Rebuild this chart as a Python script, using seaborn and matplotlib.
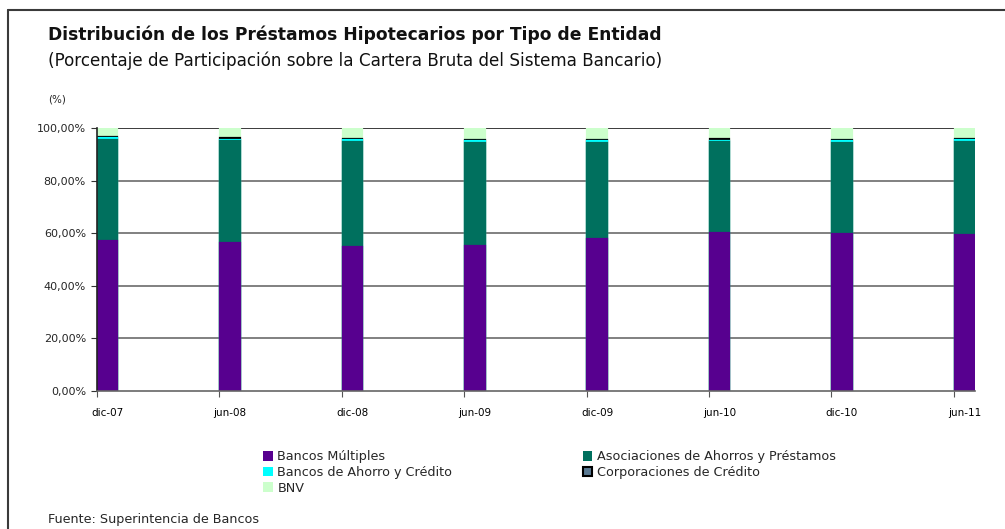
import matplotlib
matplotlib.use("Agg")
import matplotlib.pyplot as plt
import matplotlib.patches as mpatches
from matplotlib.lines import Line2D
from matplotlib.ticker import FixedLocator, FuncFormatter
import numpy as np
import pandas as pd
import seaborn as sns

# Data (percent of mortgage portfolio)
periods = ["dic-07", "jun-08", "dic-08", "jun-09", "dic-09", "jun-10", "dic-10", "jun-11"]
bancos_multiples = [57.0, 56.3, 54.8, 55.1, 57.8, 60.1, 59.7, 59.3]
asociaciones = [38.6, 38.6, 40.0, 39.2, 36.4, 34.7, 34.5, 35.5]
bancos_ahorro = [0.5, 0.7, 0.5, 0.9, 0.8, 0.4, 1.0, 0.7]
corporaciones = [0.3, 0.5, 0.5, 0.4, 0.4, 0.6, 0.4, 0.5]
bnv = [3.6, 3.9, 4.2, 4.4, 4.6, 4.2, 4.4, 4.0]

series_names = ["Bancos Múltiples", "Asociaciones de Ahorros y Préstamos",
                "Bancos de Ahorro y Crédito", "Corporaciones de Crédito", "BNV"]
colors = ["#57008f", "#00705e", "#00ffff", "#5a7a93", "#ccffcc"]
edges = [None, None, None, "black", None]

sns.set_theme(style="white")
plt.rcParams['font.family'] = ['DejaVu Sans']

df = pd.DataFrame({"periodo": periods})
cum = np.zeros(len(periods))
cum_cols = []
for name, vals in zip(series_names,
                      [bancos_multiples, asociaciones, bancos_ahorro, corporaciones, bnv]):
    cum = cum + np.array(vals)
    df[name] = cum
    cum_cols.append(name)

fig = plt.figure(figsize=(10.05, 5.29), dpi=100)
ax = fig.add_axes([97 / 1005, 1 - 391 / 529, (975 - 97) / 1005, (391 - 128) / 529])

bar_w = 0.16
# draw cumulative totals from the top segment down so they stack visually;
# same-colour edges on the lower bars hide the side edges of the Corporaciones bar
for name, col, ec in reversed(list(zip(cum_cols, colors, edges))):
    sns.barplot(data=df, x="periodo", y=name, order=periods, color=col,
                width=bar_w, saturation=1, ax=ax,
                edgecolor=ec if ec else col, linewidth=1.6)

half = bar_w / 2 + 0.007
ax.set_xlim(-half, len(periods) - 1 + half)
ax.set_ylim(0, 100)
ax.set_xlabel("")
ax.set_ylabel("")

ax.set_yticks([0, 20, 40, 60, 80, 100])
ax.yaxis.set_major_formatter(FuncFormatter(lambda v, p: f"{v:.2f}".replace(".", ",") + "%"))
for yv in [20, 40, 60, 80]:
    ax.axhline(yv, color="#6b6b6b", lw=1.2, zorder=0)
ax.axhline(100, color="#1a1a1a", lw=1.2, zorder=0)

ax.xaxis.set_minor_locator(FixedLocator([i - half for i in range(len(periods))]))
ax.tick_params(axis="x", which="major", length=0, labelsize=7.5, pad=12, colors="black")
ax.tick_params(axis="x", which="minor", length=4, width=0.8, color="#555555", direction="out", bottom=True)
ax.tick_params(axis="y", which="major", length=4, width=0.8, color="#333333", direction="out",
               left=True, labelsize=8, pad=4)

for s in ["top", "right"]:
    ax.spines[s].set_visible(False)
ax.spines["left"].set_color("#222222")
ax.spines["left"].set_linewidth(1.2)
ax.spines["bottom"].set_color("#666666")
ax.spines["bottom"].set_linewidth(1.2)

# titles and labels
fig.text(48 / 1005, 1 - 35 / 529, "Distribución de los Préstamos Hipotecarios por Tipo de Entidad",
         fontsize=12.3, fontweight="bold", color="#111111", va="center", ha="left")
fig.text(48 / 1005, 1 - 61 / 529,
         "(Porcentaje de Participación sobre la Cartera Bruta del Sistema Bancario)",
         fontsize=12.1, color="#111111", va="center", ha="left")
fig.text(57 / 1005, 1 - 100 / 529, "(%)", fontsize=7.5, va="center", ha="center")
fig.text(48 / 1005, 1 - 519 / 529, "Fuente: Superintencia de Bancos",
         fontsize=9.2, va="center", ha="left")

# legend (row-major order as in the original)
handles = [mpatches.Patch(facecolor=c, edgecolor=(e if e else c), linewidth=1.5 if e else 0, label=n)
           for n, c, e in zip(series_names, colors, edges)]
order = [0, 2, 4, 1, 3]
fig.legend([handles[i] for i in order], [series_names[i] for i in order],
           ncol=2, loc="upper left", bbox_to_anchor=(257 / 1005, 1 - 444 / 529),
           frameon=False, fontsize=9.2, handlelength=0.75, handleheight=0.75,
           handletextpad=0.35, labelspacing=0.2, columnspacing=10.2, borderpad=0)

# outer frame of the original document
fig.add_artist(Line2D([8 / 1005, 8 / 1005], [0, 1 - 10 / 529], color="#3a3a3a", lw=1.5))
fig.add_artist(Line2D([8 / 1005, 1], [1 - 10 / 529, 1 - 10 / 529], color="#3a3a3a", lw=1.5))

fig.savefig("out.png", dpi=100, facecolor="white")
